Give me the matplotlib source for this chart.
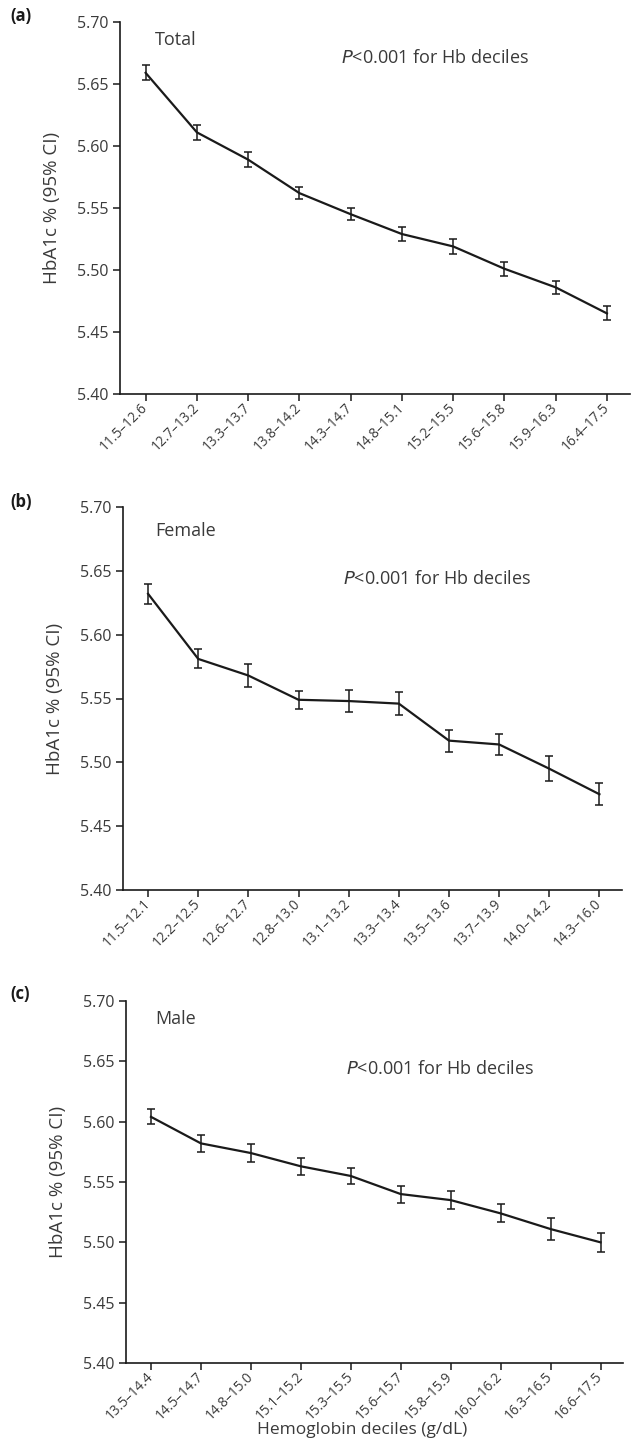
import numpy as np
import matplotlib
matplotlib.use("Agg")
import matplotlib.pyplot as plt

plt.rcParams['font.family'] = ['Open Sans', 'DejaVu Sans']

# --- data ---
total_labels = ['11.5–12.6', '12.7–13.2', '13.3–13.7', '13.8–14.2', '14.3–14.7',
                '14.8–15.1', '15.2–15.5', '15.6–15.8', '15.9–16.3', '16.4–17.5']
total_mean = [5.659, 5.611, 5.589, 5.562, 5.545, 5.529, 5.519, 5.501, 5.486, 5.465]
total_err = [0.006, 0.006, 0.006, 0.005, 0.005, 0.0055, 0.006, 0.0057, 0.005, 0.0056]

female_labels = ['11.5–12.1', '12.2–12.5', '12.6–12.7', '12.8–13.0', '13.1–13.2',
                 '13.3–13.4', '13.5–13.6', '13.7–13.9', '14.0–14.2', '14.3–16.0']
female_mean = [5.632, 5.581, 5.568, 5.549, 5.548, 5.546, 5.517, 5.514, 5.495, 5.475]
female_err = [0.008, 0.0075, 0.009, 0.007, 0.0085, 0.0087, 0.0087, 0.0084, 0.0097, 0.0087]

male_labels = ['13.5–14.4', '14.5–14.7', '14.8–15.0', '15.1–15.2', '15.3–15.5',
               '15.6–15.7', '15.8–15.9', '16.0–16.2', '16.3–16.5', '16.6–17.5']
male_mean = [5.604, 5.582, 5.574, 5.563, 5.555, 5.540, 5.535, 5.524, 5.511, 5.500]
male_err = [0.0063, 0.007, 0.0075, 0.007, 0.0065, 0.007, 0.0075, 0.0075, 0.009, 0.0076]

TXT = '#3a3a3a'
W, H = 632, 1439
fig = plt.figure(figsize=(W / 100, H / 100), dpi=100)

def px_axes(left, right, top, bottom):
    return fig.add_axes([left / W, 1 - bottom / H, (right - left) / W, (bottom - top) / H])

panels = [
    # labels, mean, err, name, box(px), name pos, p pos, tag y
    (total_labels, total_mean, total_err, 'Total', (120, 630, 22, 394), (0.069, 0.952), (0.433, 0.903), 16, '(a)'),
    (female_labels, female_mean, female_err, 'Female', (123, 622, 507, 890), (0.064, 0.937), (0.441, 0.812), 502, '(b)'),
    (male_labels, male_mean, male_err, 'Male', (126, 623, 1001, 1363), (0.058, 0.951), (0.443, 0.811), 994, '(c)'),
]

for labels, mean, err, name, box, npos, ppos, tag_y, tag in panels:
    ax = px_axes(*box)
    x = np.arange(1, len(labels) + 1)
    ax.errorbar(x, mean, yerr=err, color='#1a1a1a', lw=1.6, elinewidth=1.1,
                capsize=3, capthick=1.1)
    ax.set_xlim(0.5, 10.45)
    ax.set_ylim(5.40, 5.70)
    ax.set_yticks(np.arange(5.40, 5.701, 0.05))
    ax.set_yticklabels(['%.2f' % v for v in np.arange(5.40, 5.701, 0.05)])
    ax.set_xticks(x)
    ax.set_xticklabels(labels, rotation=45, ha='right', rotation_mode='anchor',
                       va='center', fontsize=9.8)
    for s in ['top', 'right']:
        ax.spines[s].set_visible(False)
    for s in ['left', 'bottom']:
        ax.spines[s].set_color('#1a1a1a')
        ax.spines[s].set_linewidth(1.2)
    ax.tick_params(axis='both', direction='out', length=5, width=1.1,
                   color='#1a1a1a', labelcolor=TXT)
    ax.tick_params(axis='y', pad=3, labelsize=11.5)
    ax.tick_params(axis='x', pad=3)
    ax.set_ylabel('HbA1c % (95% CI)', fontsize=13.5, color=TXT, labelpad=12)
    ax.text(npos[0], npos[1], name, transform=ax.transAxes, fontsize=13,
            color=TXT, ha='left', va='center')
    ax.text(ppos[0], ppos[1], r'$\it{P}$<0.001 for Hb deciles', transform=ax.transAxes,
            fontsize=13, color=TXT, ha='left', va='center')
    fig.text(10 / W, 1 - tag_y / H, tag, fontsize=12, fontweight='bold',
             color='#1a1a1a', ha='left', va='center')

fig.text(362 / W, 1 - 1438.5 / H, 'Hemoglobin deciles (g/dL)', fontsize=12.5,
         color=TXT, ha='center', va='bottom')

fig.savefig('out.png', dpi=100)
